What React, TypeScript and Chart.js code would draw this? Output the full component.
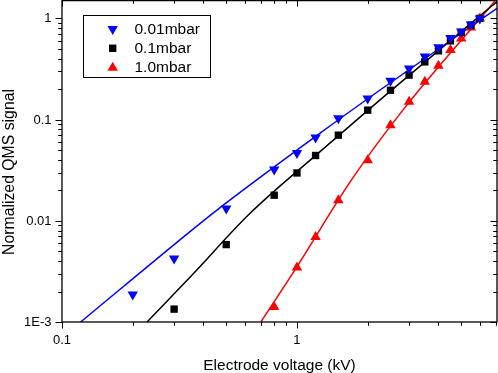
import React, { useEffect, useRef } from "react";
import { Chart, registerables } from "chart.js";

Chart.register(...registerables);

// ---- data ----
const voltage001 = [0.2, 0.3, 0.5, 0.8, 1.0, 1.2, 1.5, 2.0, 2.5, 3.0, 3.5, 4.0, 4.5, 5.0, 5.5, 6.0];
const signal001 = [0.00187, 0.00424, 0.0132, 0.0321, 0.0469, 0.0665, 0.103, 0.162, 0.242, 0.32, 0.421, 0.52, 0.642, 0.744, 0.87, 1.0];

const voltage01 = [0.3, 0.5, 0.8, 1.0, 1.2, 1.5, 2.0, 2.5, 3.0, 3.5, 4.0, 4.5, 5.0, 5.5, 6.0];
const signal01 = [0.00134, 0.00582, 0.0179, 0.0297, 0.0442, 0.0702, 0.124, 0.195, 0.275, 0.372, 0.478, 0.6, 0.727, 0.858, 1.0];

const voltage10 = [0.8, 1.0, 1.2, 1.5, 2.0, 2.5, 3.0, 3.5, 4.0, 4.5, 5.0, 5.5, 6.0];
const signal10 = [0.00141, 0.00345, 0.00692, 0.016, 0.0397, 0.0881, 0.15, 0.236, 0.34, 0.486, 0.634, 0.815, 1.0];

// fitted curves
const fit001X = [0.12, 0.357, 0.455, 1.25, 2.25, 7.1];
const fit001Y = [0.001, 0.0081, 0.0127, 0.073, 0.195, 1.26];
const fit01X = [0.23, 0.357, 0.63, 1.25, 2.25, 5.98, 7.1];
const fit01Y = [0.001, 0.0029, 0.0118, 0.048, 0.156, 1.054, 1.46];
const fit10X = [0.702, 0.994, 1.703, 2.822, 6.92, 7.1];
const fit10Y = [0.001, 0.00345, 0.0252, 0.124, 1.459, 1.566];

const seriesNames = ["0.01mbar", "0.1mbar", "1.0mbar"];
const seriesColors = ["#0000ff", "#000000", "#ff0000"];

const xMajorTicks = [0.1, 1];
const xMajorLabels = ["0.1", "1"];
const xMinorTicks = [0.2, 0.3, 0.4, 0.5, 0.6, 0.7, 0.8, 0.9, 2, 3, 4, 5, 6, 7];
const yMajorTicks = [0.001, 0.01, 0.1, 1];
const yMajorLabels = ["1E-3", "0.01", "0.1", "1"];
const yMinorTicks = [
  0.002, 0.003, 0.004, 0.005, 0.006, 0.007, 0.008, 0.009,
  0.02, 0.03, 0.04, 0.05, 0.06, 0.07, 0.08, 0.09,
  0.2, 0.3, 0.4, 0.5, 0.6, 0.7, 0.8, 0.9,
];
const xTitle = "Electrode voltage (kV)";
const yTitle = "Normalized QMS signal";

const FONT = "'Liberation Sans', Arial, sans-serif";

function toPoints(xs: number[], ys: number[]) {
  return xs.map((x, i) => ({ x, y: ys[i] }));
}

function drawMarker(ctx: CanvasRenderingContext2D, kind: number, x: number, y: number, color: string) {
  ctx.save();
  ctx.fillStyle = color;
  ctx.beginPath();
  if (kind === 1) {
    const s = 3.7;
    ctx.rect(x - s, y - s, 2 * s, 2 * s);
  } else {
    const r = 6;
    const dir = kind === 0 ? 1 : -1;
    const h = Math.sin(Math.PI / 3) * r;
    ctx.moveTo(x, y + dir * r);
    ctx.lineTo(x + h, y - dir * r * 0.5);
    ctx.lineTo(x - h, y - dir * r * 0.5);
    ctx.closePath();
  }
  ctx.fill();
  ctx.restore();
}

const framePlugin = {
  id: "framePlugin",
  afterDraw(chart: any) {
    const { ctx, chartArea } = chart;
    const { left, right, top, bottom } = chartArea;
    const xs = chart.scales.x;
    const ys = chart.scales.y;
    ctx.save();
    ctx.strokeStyle = "#000";
    ctx.fillStyle = "#000";
    ctx.lineWidth = 1.3;
    ctx.strokeRect(left, top + 0.6, right - left, bottom - top - 0.6);

    const majorLen = 6.5;
    const minorLen = 3.8;
    ctx.lineWidth = 1;
    ctx.beginPath();
    const xTick = (v: number, len: number) => {
      const px = Math.round(xs.getPixelForValue(v)) + 0.5;
      ctx.moveTo(px, bottom);
      ctx.lineTo(px, bottom + len);
      ctx.moveTo(px, top);
      ctx.lineTo(px, top + len);
    };
    const yTick = (v: number, len: number) => {
      const py = Math.round(ys.getPixelForValue(v)) + 0.5;
      ctx.moveTo(left, py);
      ctx.lineTo(left - len, py);
      ctx.moveTo(right, py);
      ctx.lineTo(right - len, py);
    };
    xMajorTicks.forEach((v) => xTick(v, majorLen));
    xMinorTicks.forEach((v) => xTick(v, minorLen));
    yMajorTicks.forEach((v) => yTick(v, majorLen));
    yMinorTicks.forEach((v) => yTick(v, minorLen));
    ctx.stroke();

    // tick labels
    ctx.font = `13px ${FONT}`;
    ctx.textAlign = "center";
    ctx.textBaseline = "middle";
    xMajorTicks.forEach((v, i) => {
      ctx.fillText(xMajorLabels[i], xs.getPixelForValue(v), bottom + 18.5);
    });
    ctx.textAlign = "right";
    yMajorTicks.forEach((v, i) => {
      ctx.fillText(yMajorLabels[i], left - 10.5, ys.getPixelForValue(v) + 0.5);
    });

    // axis titles
    ctx.font = `15.5px ${FONT}`;
    ctx.textAlign = "center";
    ctx.textBaseline = "alphabetic";
    ctx.fillText(xTitle, (left + right) / 2, 369.5);
    ctx.save();
    ctx.font = `15.8px ${FONT}`;
    ctx.translate(13.5, 172);
    ctx.rotate(-Math.PI / 2);
    ctx.fillText(yTitle, 0, 0);
    ctx.restore();

    // legend
    ctx.fillStyle = "#fff";
    ctx.fillRect(83.5, 15.5, 127, 62);
    ctx.lineWidth = 1;
    ctx.strokeStyle = "#000";
    ctx.strokeRect(83.5, 15.5, 127, 62);
    const rows = [29, 48.3, 67.7];
    ctx.font = `15.5px ${FONT}`;
    ctx.textAlign = "left";
    ctx.textBaseline = "middle";
    seriesNames.forEach((name, i) => {
      drawMarker(ctx, i, 112.7, rows[i], seriesColors[i]);
      ctx.fillStyle = "#000";
      ctx.fillText(name, 134.5, rows[i] + 0.5);
    });
    ctx.restore();
  },
};

export default function App() {
  const canvasRef = useRef<HTMLCanvasElement | null>(null);

  useEffect(() => {
    document.body.style.margin = "0";
    const canvas = canvasRef.current;
    if (!canvas) return;
    const fitLine = (label: string, xs: number[], ys: number[], color: string) => ({
      label,
      data: toPoints(xs, ys),
      showLine: true,
      pointRadius: 0,
      borderColor: color,
      borderWidth: 1.5,
      cubicInterpolationMode: "monotone",
      order: 1,
    });
    const chart = new Chart(canvas, {
      type: "scatter",
      data: {
        datasets: [
          {
            label: seriesNames[0],
            data: toPoints(voltage001, signal001),
            pointStyle: "triangle",
            rotation: 180,
            pointRadius: 6,
            pointBackgroundColor: seriesColors[0],
            pointBorderWidth: 0,
            borderColor: seriesColors[0],
            showLine: false,
            order: 0,
          },
          {
            label: seriesNames[1],
            data: toPoints(voltage01, signal01),
            pointStyle: "rect",
            pointRadius: 5.2,
            pointBackgroundColor: seriesColors[1],
            pointBorderWidth: 0,
            borderColor: seriesColors[1],
            showLine: false,
            order: 0,
          },
          {
            label: seriesNames[2],
            data: toPoints(voltage10, signal10),
            pointStyle: "triangle",
            pointRadius: 6,
            pointBackgroundColor: seriesColors[2],
            pointBorderWidth: 0,
            borderColor: seriesColors[2],
            showLine: false,
            order: 0,
          },
          fitLine("fit 0.01", fit001X, fit001Y, seriesColors[0]),
          fitLine("fit 0.1", fit01X, fit01Y, seriesColors[1]),
          fitLine("fit 1.0", fit10X, fit10Y, seriesColors[2]),
        ],
      },
      options: {
        animation: false,
        responsive: false,
        maintainAspectRatio: false,
        devicePixelRatio: 1,
        layout: { autoPadding: false, padding: { left: 62, right: 1, top: 0, bottom: 51 } },
        plugins: { legend: { display: false }, tooltip: { enabled: false } },
        scales: {
          x: { type: "logarithmic", min: 0.1, max: 7.1, display: false },
          y: { type: "logarithmic", min: 0.001, max: 1.52, display: false },
        },
      },
      plugins: [framePlugin],
    } as any);
    return () => chart.destroy();
  }, []);

  return (
    <canvas
      ref={canvasRef}
      width={498}
      height={373}
      style={{ display: "block", width: 498, height: 373 }}
    />
  );
}
